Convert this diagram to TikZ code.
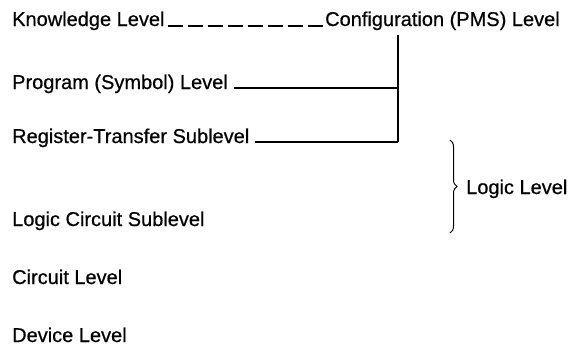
\documentclass[tikz,border=0pt]{standalone}
\usepackage{fontspec}
\setmainfont{Liberation Sans}[FakeBold=0.6]
\usetikzlibrary{decorations.pathreplacing}
\begin{document}
\begin{tikzpicture}[x=1pt,y=-1pt,
  lvl/.style={anchor=base west,inner sep=0pt,font=\fontsize{20}{24}\selectfont},
  link/.style={line width=1.2pt}]
  \useasboundingbox (0,0) rectangle (571,349);
  % levels
  \node[lvl] (know) at (12,26) {Knowledge Level};
  \node[lvl] (conf) at (325,26) {Configuration (PMS) Level};
  \node[lvl] (prog) at (12,89) {Program (Symbol) Level};
  \node[lvl] (regt) at (12,143) {Register-Transfer Sublevel};
  \node[lvl] (logc) at (12,226) {Logic Circuit Sublevel};
  \node[lvl] (circ) at (12,284) {Circuit Level};
  \node[lvl] (devc) at (12,342) {Device Level};
  \node[lvl] (logl) at (466,194) {Logic Level};
  % knowledge -- configuration
  \draw[link,dash pattern=on 15pt off 5pt] ([xshift=3pt]know.base east) -- ([xshift=-2pt]conf.base west);
  % bracket
  \coordinate (top) at (398,35);
  \coordinate (bot) at (398,142);
  \draw[link] (top) -- (bot);
  \draw[link] ([xshift=6pt,yshift=1pt]prog.base east) -- ([yshift=1pt]prog.base east -| top);
  \draw[link] ([xshift=5pt,yshift=1pt]regt.base east) -- (bot);
  % logic level
  \coordinate (btop) at (450,140);
  \coordinate (bbot) at (450,233);
  \draw[line width=1pt,decorate,decoration={brace,amplitude=7pt}] (btop) -- (bbot);
\end{tikzpicture}
\end{document}
